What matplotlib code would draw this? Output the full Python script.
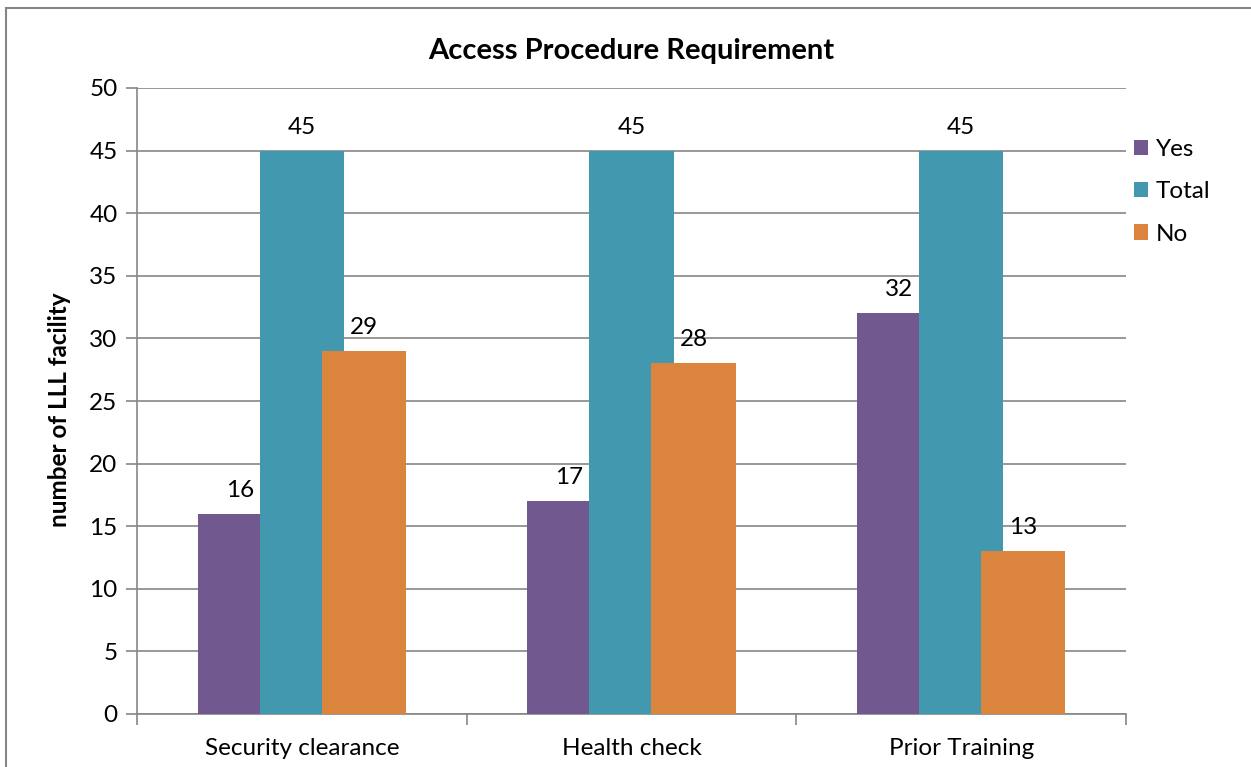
import matplotlib.pyplot as plt
from matplotlib.patches import Rectangle
import numpy as np

plt.rcParams["font.family"] = ["Lato", "DejaVu Sans"]

categories = ["Security clearance", "Health check", "Prior Training"]
yes_vals = [16, 17, 32]
total_vals = [45, 45, 45]
no_vals = [29, 28, 13]

colors = {"Yes": "#71588F", "Total": "#4198AF", "No": "#DB843D"}
grid_col = "#868686"
fs = 17.5

fig = plt.figure(figsize=(12.51, 7.67), dpi=100)
W, H = 1251, 767
ax = fig.add_axes([137 / W, 1 - 714 / H, (1126 - 137) / W, (714 - 88) / H])

x = np.arange(len(categories))
width = 0.255
step = 0.188
series = [("Yes", yes_vals, -step), ("Total", total_vals, 0.0), ("No", no_vals, step)]
for z, (name, vals, off) in enumerate(series):
    bars = ax.bar(x + off, vals, width=width, color=colors[name], label=name,
                  zorder=3 + z, linewidth=0)
    for b, v in zip(bars, vals):
        ax.annotate(str(v), (b.get_x() + b.get_width() / 2, v),
                    xytext=(0, 13), textcoords="offset pixels",
                    ha="center", va="bottom", fontsize=fs, zorder=10)

ax.set_xlim(-0.5, len(categories) - 0.5)
ax.set_ylim(0, 50)
ax.set_yticks(range(0, 51, 5))
ax.grid(axis="y", color=grid_col, linewidth=1.2, zorder=0)
ax.set_axisbelow(True)

ax.set_xticks(x)
ax.set_xticklabels(categories, fontsize=fs)
ax.set_xticks(np.arange(-0.5, len(categories), 1.0), minor=True)
ax.tick_params(axis="x", which="major", length=0, pad=17)
ax.tick_params(axis="x", which="minor", length=8, color=grid_col, width=1.2,
               direction="out")
ax.tick_params(axis="y", length=8, color=grid_col, width=1.2, labelsize=fs, pad=6)

for s in ["top", "right"]:
    ax.spines[s].set_visible(False)
for s in ["left", "bottom"]:
    ax.spines[s].set_color(grid_col)
    ax.spines[s].set_linewidth(1.2)

ax.set_ylabel("number of LLL facility", fontsize=fs, fontweight="bold", va="center")
ax.yaxis.set_label_coords(-0.078, 0.486)
fig.text(631 / W, 1 - 51 / H, "Access Procedure Requirement", ha="center",
         va="center", fontsize=21, fontweight="bold")

fig.legend(loc="upper left", bbox_to_anchor=(1112 / W, 1 - 117 / H),
           frameon=False, fontsize=fs, handlelength=0.6, handleheight=0.6,
           handletextpad=0.3, labelspacing=0.88)

# outer chart border
fig.patches.append(Rectangle((6 / W, -0.01), 1.02, 1 - 8 / H + 0.01,
                             transform=fig.transFigure, fill=False,
                             edgecolor=grid_col, linewidth=1.5))

fig.savefig("out.png", dpi=100)
